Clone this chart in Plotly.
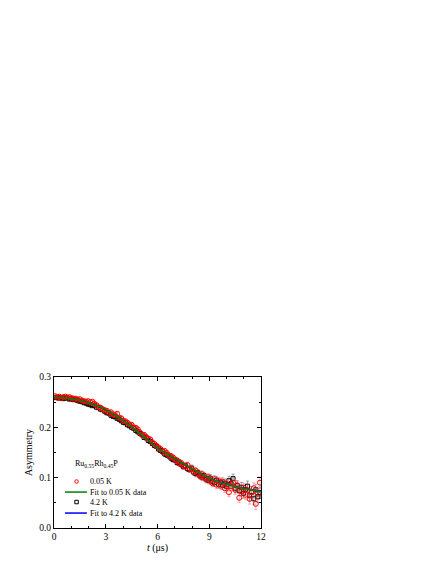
import plotly.graph_objects as go

# muSR asymmetry, Ru0.55Rh0.45P
t_us = [
    0.06, 0.18, 0.30, 0.42, 0.54, 0.66, 0.78, 0.90, 1.02, 1.14,
    1.26, 1.38, 1.50, 1.62, 1.74, 1.86, 1.98, 2.10, 2.22, 2.34,
    2.46, 2.58, 2.70, 2.82, 2.94, 3.06, 3.18, 3.30, 3.42, 3.54,
    3.66, 3.78, 3.90, 4.02, 4.14, 4.26, 4.38, 4.50, 4.62, 4.74,
    4.86, 4.98, 5.10, 5.22, 5.34, 5.46, 5.58, 5.70, 5.82, 5.94,
    6.06, 6.18, 6.30, 6.42, 6.54, 6.66, 6.78, 6.90, 7.02, 7.14,
    7.26, 7.38, 7.50, 7.62, 7.74, 7.86, 7.98, 8.10, 8.22, 8.34,
    8.46, 8.58, 8.70, 8.82, 8.94, 9.06, 9.18, 9.30, 9.42, 9.54,
    9.66, 9.78, 9.90, 10.02, 10.14, 10.26, 10.38, 10.50, 10.62, 10.74,
    10.86, 10.98, 11.10, 11.22, 11.34, 11.46, 11.58, 11.70, 11.82, 11.94,
]

asym_005K = [
    0.262, 0.259, 0.261, 0.258, 0.260, 0.261, 0.259, 0.260, 0.258, 0.257,
    0.257, 0.255, 0.256, 0.253, 0.252, 0.251, 0.252, 0.250, 0.251, 0.247,
    0.244, 0.240, 0.239, 0.236, 0.234, 0.233, 0.229, 0.230, 0.226, 0.224,
    0.227, 0.219, 0.218, 0.213, 0.212, 0.209, 0.206, 0.205, 0.200, 0.199,
    0.196, 0.190, 0.186, 0.185, 0.181, 0.177, 0.176, 0.170, 0.167, 0.163,
    0.160, 0.157, 0.151, 0.153, 0.149, 0.144, 0.143, 0.140, 0.136, 0.134,
    0.128, 0.129, 0.124, 0.122, 0.125, 0.118, 0.117, 0.112, 0.114, 0.108,
    0.103, 0.107, 0.100, 0.098, 0.101, 0.094, 0.089, 0.097, 0.086, 0.093,
    0.084, 0.092, 0.079, 0.087, 0.071, 0.083, 0.090, 0.076, 0.085, 0.060,
    0.073, 0.080, 0.066, 0.075, 0.058, 0.071, 0.079, 0.048, 0.068, 0.090,
]

asym_42K = [
    0.259, 0.260, 0.258, 0.259, 0.257, 0.259, 0.258, 0.256, 0.257, 0.255,
    0.255, 0.253, 0.252, 0.251, 0.249, 0.248, 0.246, 0.245, 0.243, 0.244,
    0.240, 0.239, 0.236, 0.235, 0.232, 0.229, 0.228, 0.224, 0.222, 0.221,
    0.218, 0.216, 0.213, 0.210, 0.209, 0.205, 0.203, 0.200, 0.198, 0.194,
    0.191, 0.188, 0.185, 0.180, 0.179, 0.174, 0.172, 0.168, 0.164, 0.162,
    0.157, 0.154, 0.152, 0.147, 0.145, 0.143, 0.139, 0.136, 0.135, 0.130,
    0.131, 0.126, 0.122, 0.124, 0.118, 0.116, 0.119, 0.111, 0.108, 0.110,
    0.105, 0.101, 0.104, 0.097, 0.095, 0.099, 0.093, 0.090, 0.095, 0.087,
    0.091, 0.085, 0.089, 0.082, 0.094, 0.088, 0.098, 0.079, 0.084, 0.074,
    0.081, 0.069, 0.077, 0.083, 0.064, 0.072, 0.058, 0.076, 0.062, 0.070,
]

asym_err = [
    0.0018, 0.0018, 0.0018, 0.0018, 0.0018, 0.0019, 0.0019, 0.0019, 0.0019, 0.0019,
    0.0020, 0.0020, 0.0020, 0.0021, 0.0021, 0.0021, 0.0022, 0.0022, 0.0022, 0.0023,
    0.0023, 0.0024, 0.0024, 0.0025, 0.0025, 0.0026, 0.0026, 0.0027, 0.0027, 0.0028,
    0.0028, 0.0029, 0.0030, 0.0030, 0.0031, 0.0032, 0.0032, 0.0033, 0.0034, 0.0035,
    0.0036, 0.0037, 0.0037, 0.0038, 0.0039, 0.0040, 0.0041, 0.0042, 0.0043, 0.0044,
    0.0045, 0.0046, 0.0047, 0.0048, 0.0049, 0.0050, 0.0051, 0.0052, 0.0053, 0.0054,
    0.0055, 0.0056, 0.0057, 0.0058, 0.0059, 0.0060, 0.0061, 0.0062, 0.0063, 0.0064,
    0.0066, 0.0067, 0.0068, 0.0070, 0.0071, 0.0073, 0.0074, 0.0076, 0.0077, 0.0079,
    0.0080, 0.0082, 0.0083, 0.0085, 0.0087, 0.0088, 0.0090, 0.0092, 0.0094, 0.0096,
    0.0097, 0.0099, 0.0101, 0.0103, 0.0105, 0.0107, 0.0109, 0.0111, 0.0113, 0.0115,
]

# fit curves
fit_t = [0, 0.5, 1, 1.5, 2, 2.5, 3, 3.5, 4, 4.5, 5, 5.5, 6,
         6.5, 7, 7.5, 8, 8.5, 9, 9.5, 10, 10.5, 11, 11.5, 12]
fit_005K = [0.259, 0.259, 0.257, 0.254, 0.249, 0.243, 0.235, 0.225, 0.214, 0.201, 0.187, 0.173, 0.159,
            0.148, 0.138, 0.128, 0.118, 0.108, 0.099, 0.092, 0.087, 0.082, 0.078, 0.075, 0.072]
fit_42K = [0.259, 0.259, 0.257, 0.254, 0.249, 0.243, 0.235, 0.225, 0.214, 0.201, 0.187, 0.173, 0.159,
           0.148, 0.137, 0.127, 0.117, 0.108, 0.099, 0.093, 0.088, 0.083, 0.079, 0.076, 0.073]

legend_labels = ["0.05 K", "Fit to 0.05 K data", "4.2 K", "Fit to 4.2 K data"]
sample_name = "Ru<sub>0.55</sub>Rh<sub>0.45</sub>P"

FONT = "Liberation Serif, Times New Roman, serif"

fig = go.Figure()

fig.add_trace(go.Scatter(
    x=t_us, y=asym_42K, mode="markers",
    error_y=dict(type="data", array=asym_err, color="rgba(60,60,60,0.55)", thickness=0.8, width=1.5),
    marker=dict(symbol="square-open", size=4, color="black", line=dict(width=1)),
    showlegend=False,
))
fig.add_trace(go.Scatter(
    x=fit_t, y=fit_42K, mode="lines", line=dict(color="blue", width=1.5, shape="spline"),
    showlegend=False,
))
fig.add_trace(go.Scatter(
    x=t_us, y=asym_005K, mode="markers",
    error_y=dict(type="data", array=asym_err, color="rgba(255,60,60,0.5)", thickness=0.8, width=1.5),
    marker=dict(symbol="circle-open", size=5, color="red", line=dict(width=1)),
    showlegend=False,
))
fig.add_trace(go.Scatter(
    x=fit_t, y=fit_005K, mode="lines", line=dict(color="green", width=1.5, shape="spline"),
    showlegend=False,
))

# hand-drawn legend on an overlay axis (plotly legend rows are too tall here)
key_x = [0.053, 0.109, 0.159]
key_y = [0.308, 0.238, 0.172, 0.099]
fig.add_trace(go.Scatter(
    x=[key_x[1]], y=[key_y[0]], xaxis="x2", yaxis="y2", mode="markers",
    marker=dict(symbol="circle-open", size=3.5, color="red", line=dict(width=1)), showlegend=False,
))
fig.add_trace(go.Scatter(
    x=[key_x[0], key_x[2]], y=[key_y[1]] * 2, xaxis="x2", yaxis="y2", mode="lines",
    line=dict(color="green", width=1.5), showlegend=False,
))
fig.add_trace(go.Scatter(
    x=[key_x[1]], y=[key_y[2]], xaxis="x2", yaxis="y2", mode="markers",
    marker=dict(symbol="square-open", size=3.5, color="black", line=dict(width=1)), showlegend=False,
))
fig.add_trace(go.Scatter(
    x=[key_x[0], key_x[2]], y=[key_y[3]] * 2, xaxis="x2", yaxis="y2", mode="lines",
    line=dict(color="blue", width=1.5), showlegend=False,
))

annotations = [dict(x=0.092, y=0.424, xref="paper", yref="paper", text=sample_name,
                    showarrow=False, xanchor="left", yanchor="middle", align="left",
                    font=dict(size=8, color="black"))]
for lbl, yy in zip(legend_labels, key_y):
    annotations.append(dict(x=0.164, y=yy, xref="paper", yref="paper", text=lbl,
                            showarrow=False, xanchor="left", yanchor="middle", align="left",
                            font=dict(size=8, color="black")))

axis_common = dict(
    showline=True, linecolor="black", linewidth=1, mirror="allticks",
    ticks="inside", ticklen=4, tickwidth=1, tickcolor="black",
    showgrid=False, zeroline=False, tickfont=dict(size=9.5, color="black"),
)

# the page body has an 8px margin, so the figure is shrunk by 8px
fig.update_layout(
    width=428, height=556,
    margin=dict(l=46, r=175, t=369, b=36),
    paper_bgcolor="white", plot_bgcolor="white",
    font=dict(family=FONT, color="black", size=10),
    xaxis=dict(range=[0, 12], dtick=3, tick0=0,
               minor=dict(dtick=1, ticks="inside", ticklen=2, tickcolor="black"),
               title=dict(text="<i>t</i> (μs)", font=dict(size=10, color="black"), standoff=2),
               **axis_common),
    yaxis=dict(range=[0, 0.3], dtick=0.1, tick0=0, tickformat=".1f",
               minor=dict(dtick=0.05, ticks="inside", ticklen=2, tickcolor="black"),
               title=dict(text="Asymmetry", font=dict(size=10, color="black"), standoff=4),
               **axis_common),
    xaxis2=dict(overlaying="x", range=[0, 1], visible=False),
    yaxis2=dict(overlaying="y", range=[0, 1], visible=False),
    annotations=annotations,
    showlegend=False,
)

fig.write_html("out.html")
